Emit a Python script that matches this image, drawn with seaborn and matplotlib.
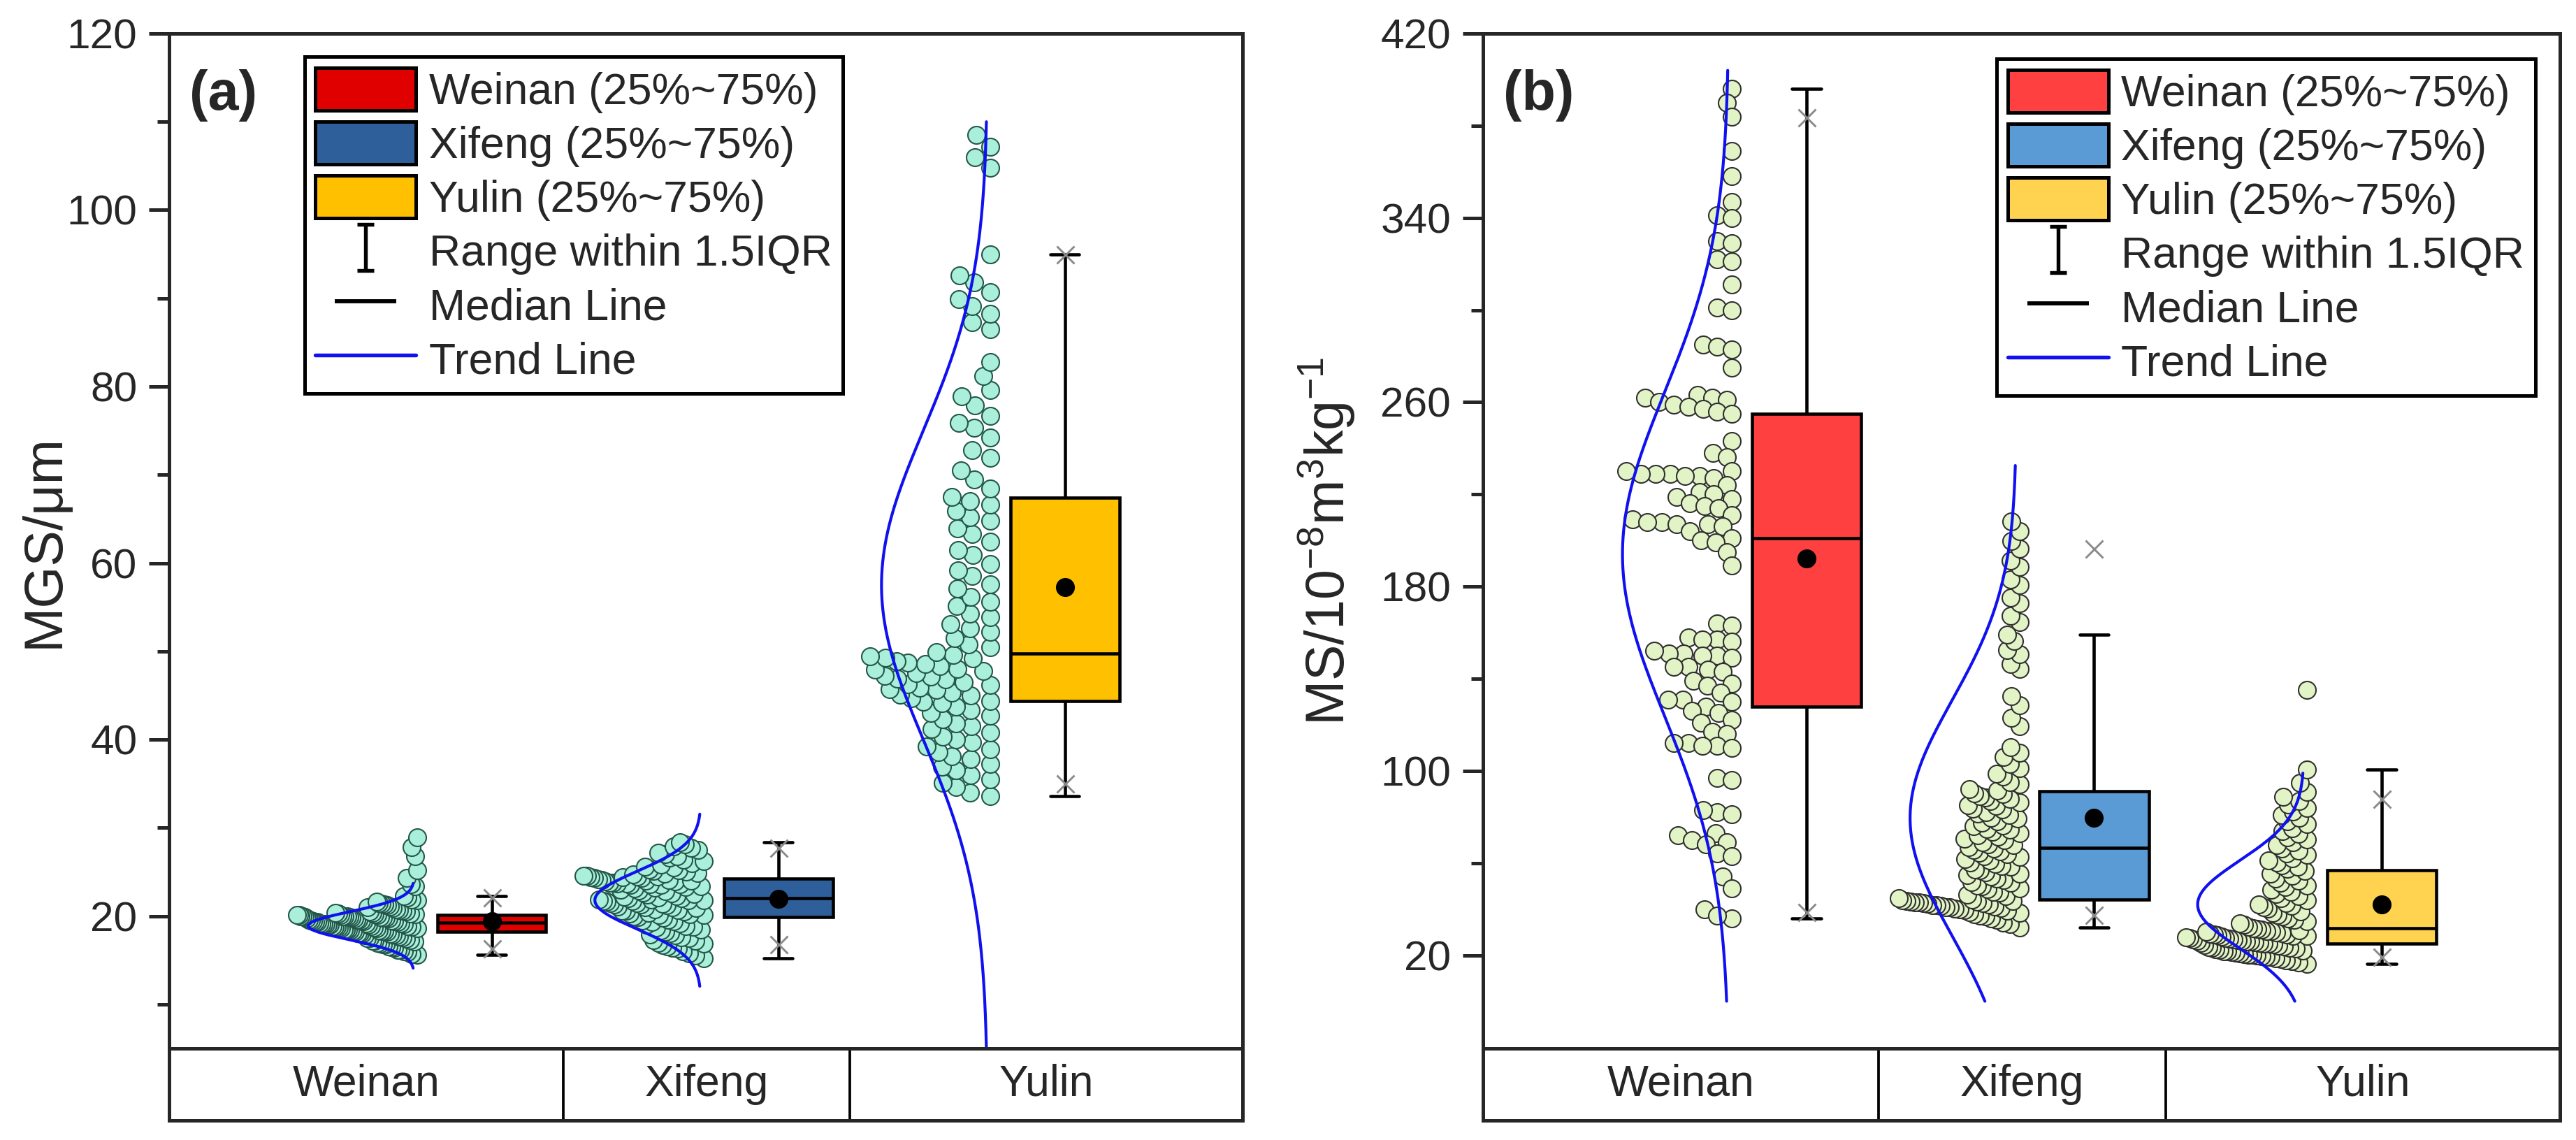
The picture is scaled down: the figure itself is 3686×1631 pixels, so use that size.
import numpy as np
import pandas as pd
import matplotlib
matplotlib.use("Agg")
import matplotlib.pyplot as plt
import seaborn as sns
from matplotlib.lines import Line2D
from matplotlib.patches import Patch
from matplotlib.path import Path

SITES = ["Weinan", "Xifeng", "Yulin"]

mgs_weinan = [
    15.6, 15.7, 15.9, 16.0, 16.2, 16.2, 16.4, 16.5, 16.6, 16.8,
    16.8, 16.9, 17.0, 17.1, 17.2, 17.2, 17.3, 17.4, 17.5, 17.5,
    17.6, 17.7, 17.8, 17.8, 17.9, 18.0, 18.0, 18.1, 18.1, 18.2,
    18.2, 18.3, 18.3, 18.3, 18.4, 18.4, 18.5, 18.5, 18.5, 18.6,
    18.6, 18.6, 18.7, 18.7, 18.8, 18.8, 18.8, 18.9, 18.9, 18.9,
    19.0, 19.0, 19.0, 19.1, 19.1, 19.1, 19.1, 19.2, 19.2, 19.2,
    19.3, 19.3, 19.3, 19.4, 19.4, 19.4, 19.5, 19.5, 19.5, 19.6,
    19.6, 19.6, 19.7, 19.7, 19.7, 19.8, 19.8, 19.8, 19.9, 19.9,
    19.9, 20.0, 20.0, 20.0, 20.0, 20.0, 20.1, 20.1, 20.1, 20.1,
    20.2, 20.2, 20.3, 20.3, 20.4, 20.4, 20.5, 20.5, 20.6, 20.7,
    20.8, 20.9, 21.0, 21.1, 21.2, 21.3, 21.4, 21.5, 21.6, 21.8,
    21.9, 22.1, 22.3, 23.4, 23.6, 24.3, 25.2, 26.8, 27.8, 28.9]
mgs_xifeng = [
    15.2, 15.5, 15.8, 16.0, 16.3, 16.4, 16.6, 16.7, 16.9, 17.0,
    17.2, 17.3, 17.5, 17.6, 17.8, 17.9, 18.1, 18.2, 18.4, 18.5,
    18.7, 18.8, 18.9, 19.0, 19.2, 19.3, 19.4, 19.5, 19.6, 19.8,
    19.9, 20.0, 20.1, 20.1, 20.2, 20.3, 20.4, 20.5, 20.6, 20.6,
    20.7, 20.8, 20.9, 21.0, 21.0, 21.1, 21.2, 21.3, 21.3, 21.4,
    21.5, 21.5, 21.6, 21.7, 21.7, 21.8, 21.8, 21.9, 21.9, 22.0,
    22.0, 22.1, 22.2, 22.3, 22.4, 22.5, 22.6, 22.7, 22.8, 22.9,
    23.0, 23.1, 23.2, 23.3, 23.4, 23.5, 23.5, 23.6, 23.6, 23.7,
    23.7, 23.8, 23.8, 23.9, 23.9, 24.0, 24.0, 24.1, 24.1, 24.2,
    24.3, 24.3, 24.4, 24.4, 24.5, 24.5, 24.6, 24.6, 24.7, 24.8,
    24.9, 25.0, 25.1, 25.2, 25.3, 25.5, 25.6, 25.8, 26.0, 26.2,
    26.4, 26.6, 26.8, 27.0, 27.2, 27.5, 27.7, 27.9, 28.1, 28.4]
mgs_yulin = [
    33.6, 34.0, 34.6, 35.1, 35.5, 36.0, 36.5, 36.9, 37.2, 37.8,
    38.1, 38.6, 38.9, 39.2, 39.7, 40.0, 40.3, 40.8, 41.2, 41.5,
    41.8, 42.3, 42.7, 43.0, 43.3, 43.7, 44.1, 44.3, 44.4, 44.7,
    45.0, 45.1, 45.3, 45.6, 45.7, 45.9, 46.2, 46.3, 46.5, 46.8,
    46.9, 47.1, 47.2, 47.5, 47.8, 47.9, 48.0, 48.3, 48.6, 48.7,
    48.9, 49.2, 49.3, 49.4, 49.6, 49.9, 50.5, 50.8, 51.5, 52.2,
    52.6, 53.1, 53.9, 54.3, 55.1, 55.6, 56.2, 57.1, 57.6, 58.5,
    59.2, 59.9, 60.9, 61.5, 62.4, 63.3, 63.9, 64.8, 65.2, 65.9,
    66.6, 67.0, 67.5, 68.4, 69.5, 70.5, 71.9, 72.8, 74.2, 75.3,
    75.9, 76.7, 77.9, 78.9, 79.6, 81.2, 82.8, 86.5, 87.3, 88.2,
    89.1, 89.9, 90.7, 91.8, 92.6, 95.0, 104.8, 106.0, 107.2, 108.5]

# --- (b) magnetic susceptibility, 10^-8 m3/kg ---
ms_weinan = [
    396, 390, 384, 369, 358, 347, 341, 340, 330, 329, 322, 321, 311, 301, 300,
    285, 284, 283, 275, 263, 262, 262, 261, 260, 259, 258, 257, 256, 255,
    243, 238, 236, 230, 229, 229, 228, 228, 227, 229, 230, 224, 221, 220, 219,
    218, 216, 215, 214, 211, 209, 208, 208, 207, 207, 206, 204,
    201, 200, 199, 195, 189, 164, 163, 158, 157, 156, 157, 151, 150, 151, 152,
    150, 149, 145, 144, 143, 145, 138, 139, 137, 134, 131, 131, 130, 128,
    126, 125, 122, 121, 117, 116, 112, 111, 112, 110, 111, 97, 96, 82, 81, 83,
    73, 72, 69, 70, 68, 64, 63, 54, 49, 40, 36, 37]
ms_xifeng = [
    31.9, 33.4, 34.1, 35.3, 36.0, 36.9, 37.2, 37.9, 38.5, 38.6, 39.3, 39.5,
    40.0, 40.1, 40.6, 40.8, 40.9, 41.2, 41.5, 41.6, 41.8, 42.1, 42.2, 42.5,
    42.6, 42.9, 43.0, 43.1, 43.3, 43.5, 43.6, 43.7,
    44.1, 44.8, 45.7, 46.2, 47.1, 47.5, 48.6, 49.0, 49.9, 50.3, 51.4, 51.8,
    52.7, 53.1, 54.2, 54.6, 55.5, 56.0, 56.9, 57.3, 58.4, 58.8, 59.7, 60.1,
    61.2, 61.6, 62.5, 63.0, 63.9, 64.4, 65.0, 65.8, 66.3,
    66.8, 67.7, 68.2, 69.1, 69.9, 70.4, 71.5, 71.9, 72.9, 73.4, 74.5, 74.8,
    75.9, 76.4, 77.6, 78.0, 79.2, 79.7, 80.8, 81.3, 82.1, 83.2, 83.6, 84.7,
    85.2, 86.4, 86.9, 87.8, 88.4, 89.1, 89.9, 90.3,
    91.6, 92.2, 94.3, 95.1, 97.4, 98.8, 101.2, 103.0, 105.9, 107.7, 110.4,
    119.3, 123.1, 128.6, 132.4, 144.2, 146.5, 150.7, 152.3, 156.4, 159.1,
    164.5, 167.3, 172.8, 175.1, 180.6, 183.2, 188.5, 191.4, 196.3, 199.8,
    204.1, 208.2]
ms_yulin = [
    16.2, 16.9, 17.4, 17.6, 18.3, 18.5, 19.1, 19.2, 19.6, 19.8, 20.1, 20.3,
    20.6, 20.9, 21.0, 21.4, 21.6, 21.8, 22.1, 22.4, 22.6, 22.8, 23.1, 23.3,
    23.5, 23.8, 24.0, 24.3, 24.6, 24.9,
    25.1, 25.3, 25.4, 25.6, 25.8, 26.0, 26.1, 26.3, 26.5, 26.7, 26.9, 27.1,
    27.3, 27.5, 27.7, 27.9, 28.2, 28.4, 28.6, 28.9, 29.1, 29.4, 29.6, 29.9,
    30.1, 30.4, 30.6, 30.9, 31.2, 31.4,
    31.8, 32.4, 33.1, 33.9, 34.6, 35.4, 36.0, 36.9, 37.5, 38.4, 39.1, 40.2,
    40.8, 41.3, 41.9, 42.7, 43.8, 44.6, 45.7, 46.5, 47.6, 48.4, 49.5, 50.3,
    51.4, 52.2, 53.3, 54.4, 55.5, 56.6,
    57.4, 58.5, 59.1, 60.3, 61.2, 62.0, 63.4, 64.1, 65.5, 66.2, 67.8, 68.9,
    70.1, 71.0, 72.6, 73.9, 75.2, 76.8, 78.1, 79.5, 80.9, 82.4, 83.9, 85.3,
    86.8, 88.6, 90.9, 94.7, 100.5, 135.2]

# normal trend lines (mean, sd)
trend_mean_a = [18.9, 21.8, 57.5]
trend_sd_a = [1.6, 3.25, 17.5]
trend_mean_b = [194.0, 79.5, 42.0]
trend_sd_b = [70.0, 51.0, 19.0]

# grey crosses at the 1% / 99% marks
pct_low_a = [16.3, 16.8, 35.0]
pct_high_a = [22.1, 27.7, 95.0]
pct_low_b = [38.8, 37.5, 19.4]
pct_high_b = [383.6, 196.3, 87.7]

BOX_A = ["#E00000", "#2F5F9A", "#FFC000"]
BOX_B = ["#FF4040", "#5B9BD5", "#FFD24F"]

sns.set_style("ticks")
plt.rcParams["font.family"] = ["Liberation Sans", "DejaVu Sans"]
plt.rcParams["mathtext.fontset"] = "custom"
plt.rcParams["mathtext.rm"] = "Liberation Sans"
plt.rcParams["mathtext.it"] = "Liberation Sans:italic"
plt.rcParams["mathtext.bf"] = "Liberation Sans:bold"

XLIM = (-1.125, 2.62)
DIVIDERS = [0.25, 1.25]
DOT_SHIFT = 0.26      # points sit to the left of each box
DOT_WIDTH = 0.42      # max spread of the point cloud
CURVE_SHIFT = 0.27
CURVE_AMP = 0.37
TREND_BLUE = "#1010F0"

IBEAM = Path([(-0.35, 1), (0.35, 1), (0, 1), (0, -1), (-0.35, -1), (0.35, -1)],
             [Path.MOVETO, Path.LINETO, Path.MOVETO, Path.LINETO, Path.MOVETO, Path.LINETO])


def half_swarm(ax, values, right_edge, spacing_px=21.0):
    # one-sided beeswarm: push each point left until it is free
    to_px = ax.transData.transform
    y_px = to_px(np.column_stack([np.zeros(len(values)), values]))[:, 1]
    px_per_unit = to_px((1, 0))[0] - to_px((0, 0))[0]
    placed_y, placed_dx = np.empty(0), np.empty(0)
    dx = np.zeros(len(values))
    for i in np.argsort(y_px, kind="stable"):
        y = y_px[i]
        near = np.abs(placed_y - y) < spacing_px
        ny, ndx = placed_y[near], placed_dx[near]
        reach = np.sqrt(spacing_px ** 2 - (ny - y) ** 2)
        cands = np.sort(np.concatenate([[0.0], ndx + reach, ndx - reach]))
        for c in cands[cands >= 0]:
            if np.all((c - ndx) ** 2 + (ny - y) ** 2 >= spacing_px ** 2 - 1e-6):
                dx[i] = c
                break
        placed_y = np.append(placed_y, y)
        placed_dx = np.append(placed_dx, dx[i])
    limit = DOT_WIDTH * px_per_unit
    if dx.max() > limit:
        # squeeze crowded rows a bit harder than sparse ones
        dx = limit * (dx / dx.max()) ** 0.8
    return right_edge - dx / px_per_unit


def draw_panel(ax, tab, groups, colors, face, edge, t_mean, t_sd, p_lo, p_hi,
               ylim, major, minor, ylabel, label_x, tag, legend_xy):
    df = pd.DataFrame({
        "site": np.repeat(SITES, [len(g) for g in groups]),
        "value": np.concatenate([np.asarray(g, float) for g in groups]),
    })
    sns.boxplot(data=df, x="site", y="value", hue="site", order=SITES, hue_order=SITES,
                palette=colors, saturation=1, width=0.38, whis=1.5, showfliers=False,
                showmeans=True,
                meanprops=dict(marker="o", markerfacecolor="black",
                               markeredgecolor="black", markersize=5.5),
                linecolor="black", linewidth=1.1, capwidths=0.1, legend=False, ax=ax)
    ax.set_xlim(*XLIM)
    ax.set_ylim(*ylim)

    for i, vals in enumerate(groups):
        vals = np.asarray(vals, float)
        xs = half_swarm(ax, vals, i - DOT_SHIFT)
        ax.scatter(xs, vals, s=36, facecolor=face, edgecolor=edge, linewidth=0.5, zorder=2)
        m, sd = t_mean[i], t_sd[i]
        yy = np.linspace(max(m - 3 * sd, 0), m + 3 * sd, 300)
        xx = i - CURVE_SHIFT - CURVE_AMP * np.exp(-0.5 * ((yy - m) / sd) ** 2)
        ax.plot(xx, yy, color=TREND_BLUE, lw=1.0, zorder=4)
        ax.plot([i, i], [p_lo[i], p_hi[i]], ls="none", marker="x", ms=6, mew=0.7,
                color="#8a8a8a", zorder=5)

    ax.set_yticks(major)
    ax.set_yticks(minor, minor=True)
    ax.tick_params(axis="y", which="major", length=7, width=1.2, labelsize=14.5, pad=4)
    ax.tick_params(axis="y", which="minor", length=4, width=1.2)
    ax.tick_params(axis="x", bottom=False, labelbottom=False)
    ax.set_xlabel("")
    ax.set_ylabel(ylabel, fontsize=18.5)
    ax.yaxis.set_label_coords(label_x, 0.5)
    for sp in ax.spines.values():
        sp.set_visible(True)
        sp.set_linewidth(1.2)

    ax.text(0.019, 0.965, tag, transform=ax.transAxes, fontsize=19, fontweight="bold",
            ha="left", va="top")

    handles = [Patch(facecolor=c, edgecolor="black", linewidth=1.2, label=f"{s} (25%~75%)")
               for s, c in zip(SITES, colors)]
    handles += [
        Line2D([], [], ls="none", marker=IBEAM, ms=16, mew=1.3, color="black",
               markerfacecolor="none", label="Range within 1.5IQR"),
        Line2D([], [], ls="none", marker="_", ms=21, mew=1.4, color="black",
               label="Median Line"),
        Line2D([], [], color=TREND_BLUE, lw=1.3, label="Trend Line"),
    ]
    leg = ax.legend(handles=handles, loc="upper left", bbox_to_anchor=legend_xy,
                    fontsize=15, frameon=True, fancybox=False, edgecolor="black",
                    framealpha=1, borderpad=0.25, labelspacing=0.2, handlelength=2.3,
                    handleheight=1.12, handletextpad=0.3, borderaxespad=0, numpoints=1)
    leg.get_frame().set_linewidth(1.2)

    # category row under the plot
    tab.set_xlim(*XLIM)
    tab.set_ylim(0, 1)
    tab.set_xticks([])
    tab.set_yticks([])
    for sp in tab.spines.values():
        sp.set_visible(True)
        sp.set_linewidth(1.2)
    for b in DIVIDERS:
        tab.axvline(b, color="black", lw=0.9)
    edges = [XLIM[0]] + DIVIDERS + [XLIM[1]]
    for k, s in enumerate(SITES):
        tab.text((edges[k] + edges[k + 1]) / 2, 0.5, s, ha="center", va="center", fontsize=15)


fig = plt.figure(figsize=(3686 / 300, 1631 / 300), dpi=300)
ax_a = fig.add_axes([0.0657, 0.0803, 0.4167, 0.8903])
tab_a = fig.add_axes([0.0657, 0.0172, 0.4167, 0.0631])
ax_b = fig.add_axes([0.5757, 0.0803, 0.4181, 0.8903])
tab_b = fig.add_axes([0.5757, 0.0172, 0.4181, 0.0631])

draw_panel(ax_a, tab_a, [mgs_weinan, mgs_xifeng, mgs_yulin], BOX_A, "#A9EFD9", "#24574A",
           trend_mean_a, trend_sd_a, pct_low_a, pct_high_a,
           ylim=(5, 120), major=list(range(20, 121, 20)), minor=list(range(10, 120, 20)),
           ylabel="MGS/μm", label_x=-0.093, tag="(a)", legend_xy=(0.126, 0.977))

draw_panel(ax_b, tab_b, [ms_weinan, ms_xifeng, ms_yulin], BOX_B, "#E2F4C6", "#303030",
           trend_mean_b, trend_sd_b, pct_low_b, pct_high_b,
           ylim=(-20.5, 420), major=list(range(20, 421, 80)), minor=list(range(60, 400, 80)),
           ylabel=r"MS/10$^{-8}$m$^{3}$kg$^{-1}$", label_x=-0.117, tag="(b)",
           legend_xy=(0.477, 0.975))

fig.savefig("out.png", dpi=300)
